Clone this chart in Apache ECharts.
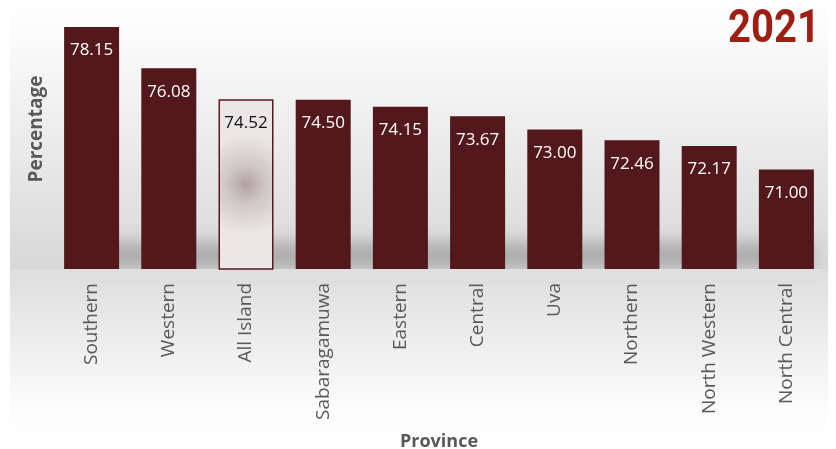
<!DOCTYPE html>
<html><head><meta charset="utf-8">
<script src="https://cdn.jsdelivr.net/npm/echarts@6/dist/echarts.min.js"></script>
<style>html,body{margin:0;padding:0;background:#fff}#c{width:836px;height:449px}</style>
</head><body><div id="c"></div>
<script>
const categories = ['Southern','Western','All Island','Sabaragamuwa','Eastern','Central','Uva','Northern','North Western','North Central'];
const values = [78.15, 76.08, 74.52, 74.50, 74.15, 73.67, 73.00, 72.46, 72.17, 71.00];
const highlight = 'All Island';
const yearLabel = '2021';
const xTitle = 'Province';
const yTitle = 'Percentage';

const chart = echarts.init(document.getElementById('c'), null, {renderer:'canvas'});
const data = values.map((v,i)=>{
  if (categories[i] === highlight) {
    return {value:v, itemStyle:{
      color:{type:'radial', x:0.5, y:0.5, r:0.9, colorStops:[{offset:0,color:'#b2a2a2'},{offset:0.4,color:'#d0c7c7'},{offset:1,color:'#ebe7e7'}]},
      borderColor:'#5a1a1c', borderWidth:1.5}, label:{color:'#111'}};
  }
  return v;
});
chart.setOption({
  animation:false,
  graphic:[
    {type:'rect', z:-10, shape:{x:10,y:0,width:818,height:449},
     style:{fill:{type:'linear',x:0,y:0,x2:0,y2:1,colorStops:[
       {offset:0,color:'#ffffff'},{offset:0.08,color:'#fbfbfb'},{offset:0.6,color:'#d8d8d8'},{offset:0.601,color:'#dedede'},{offset:0.92,color:'#fdfdfd'},{offset:1,color:'#ffffff'}]}}},
    {type:'rect', z:-5, shape:{x:90,y:248-3000,width:720,height:14},
     style:{fill:'#777', shadowBlur:22, shadowOffsetY:3000, shadowColor:'rgba(70,70,70,0.6)'}},
    {type:'rect', z:-4, shape:{x:10,y:269,width:818,height:12},
     style:{fill:{type:'linear',x:0,y:0,x2:0,y2:1,colorStops:[{offset:0,color:'#dedede'},{offset:1,color:'#e0e0e0'}]}}},
    {type:'text', x:728, y:7, scaleX:0.87, style:{text:yearLabel, fill:'#9e1f12', font:'bold 46px Roboto, sans-serif'}},
    {type:'text', x:37, y:129, rotation:Math.PI/2, style:{text:yTitle, fill:'#595959', align:'center', verticalAlign:'middle', font:'bold 19px "Open Sans", sans-serif'}}
  ],
  grid:{left:53, right:11, top:10, bottom:180, outerBoundsMode:'none', containLabel:false},
  xAxis:{type:'category', data:categories, name:xTitle, nameLocation:'middle', nameGap:164,
    nameTextStyle:{fontFamily:'Open Sans', fontWeight:'bold', fontSize:18, color:'#595959'},
    axisLine:{show:false}, axisTick:{show:false},
    axisLabel:{rotate:90, margin:14, fontFamily:'Open Sans', fontSize:19, color:'#595959'}},
  yAxis:{type:'value', min:66, max:79, show:true,
    axisLine:{show:false}, axisTick:{show:false}, axisLabel:{show:false}, splitLine:{show:false}},
  series:[{type:'bar', data:data, barWidth:55,
    itemStyle:{color:'#53181b'},
    label:{show:true, position:'insideTop', distance:15, color:'#ffffff', fontFamily:'Open Sans', fontSize:17,
      formatter:p=>p.value.toFixed(2)}}]
});
</script></body></html>
